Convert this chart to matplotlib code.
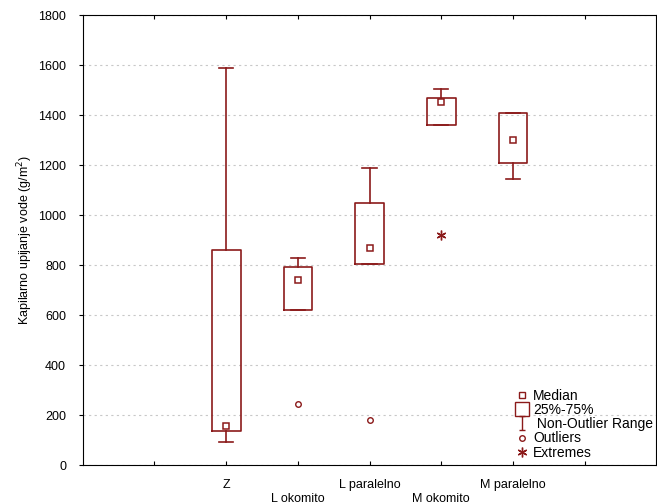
import matplotlib
matplotlib.use('Agg')
import matplotlib.pyplot as plt
from matplotlib.lines import Line2D
from matplotlib.path import Path

plt.rcParams['font.family'] = ['Liberation Sans', 'DejaVu Sans']
plt.rcParams['font.size'] = 9

# Data
groups = ['Z', 'L okomito', 'L paralelno', 'M okomito', 'M paralelno']
medians = [156, 740, 868, 1452, 1300]
q1 = [136, 620, 804, 1360, 1208]
q3 = [862, 792, 1048, 1468, 1408]
whis_lo = [92, 620, 804, 1360, 1144]
whis_hi = [1588, 828, 1188, 1504, 1408]
outliers = {'L okomito': [244], 'L paralelno': [180]}
extremes = {'M okomito': [920]}

col = '#8b1a1a'
pos = [2, 3, 4, 5, 6]

fig = plt.figure(figsize=(6.57, 5.04), dpi=100)
ax = fig.add_axes([0.126, 0.077, 0.873, 0.893])

stats = []
for i, g in enumerate(groups):
    stats.append({'label': g, 'med': medians[i], 'q1': q1[i], 'q3': q3[i],
                  'whislo': whis_lo[i], 'whishi': whis_hi[i], 'fliers': []})

ax.bxp(stats, positions=pos, widths=0.4, capwidths=0.2, showfliers=False,
       boxprops=dict(color=col, linewidth=1.2),
       whiskerprops=dict(color=col, linewidth=1.2),
       capprops=dict(color=col, linewidth=1.2),
       medianprops=dict(visible=False), zorder=3)

ax.plot(pos, medians, ls='none', marker='s', ms=5, mfc='white', mec=col, mew=1.1, zorder=4)

for i, g in enumerate(groups):
    if g in outliers:
        ax.plot([pos[i]] * len(outliers[g]), outliers[g], ls='none', marker='o',
                ms=4, mfc='none', mec=col, mew=1, zorder=4)
    if g in extremes:
        ax.plot([pos[i]] * len(extremes[g]), extremes[g], ls='none', marker=(6, 2, 0),
                ms=7, mec=col, mew=1, zorder=4)

ax.set_xlim(0, 8)
ax.set_ylim(0, 1800)
ax.set_yticks(range(0, 1801, 200))
ax.set_xticks([1, 2, 3, 4, 5, 6, 7])
ax.set_xticklabels(['', 'Z', '\nL okomito', 'L paralelno', '\nM okomito', 'M paralelno', ''])
ax.tick_params(axis='x', direction='in', length=3, pad=10, top=True)
ax.tick_params(axis='y', direction='out', length=3, pad=9)
ax.yaxis.grid(True, linestyle=(0, (2, 3)), color='#c8c8c8', linewidth=0.8)
ax.set_axisbelow(True)
ax.set_ylabel('Kapilarno upijanje vode (g/m$^2$)', labelpad=2)

# I-beam marker for the non-outlier range
ibeam = Path([(-0.5, 1), (0.5, 1), (0, 1), (0, -1), (-0.5, -1), (0.5, -1)],
             [Path.MOVETO, Path.LINETO, Path.MOVETO, Path.LINETO, Path.MOVETO, Path.LINETO])
handles = [
    Line2D([], [], ls='none', marker='s', ms=5, mfc='white', mec=col, mew=1),
    Line2D([], [], ls='none', marker='s', ms=10, mfc='white', mec=col, mew=1),
    Line2D([], [], ls='none', marker=ibeam, ms=10, mec=col, mew=1),
    Line2D([], [], ls='none', marker='o', ms=4, mfc='none', mec=col, mew=1),
    Line2D([], [], ls='none', marker=(6, 2, 0), ms=7, mec=col, mew=1),
]
labels = ['Median', '25%-75%', ' Non-Outlier Range', 'Outliers', 'Extremes']
ax.legend(handles, labels, loc='lower left', bbox_to_anchor=(0.746, 0.0),
          frameon=False, handlelength=0.8, handletextpad=0.4,
          labelspacing=0.01, borderaxespad=0.0, fontsize=10)

plt.savefig('out.png', dpi=100)
